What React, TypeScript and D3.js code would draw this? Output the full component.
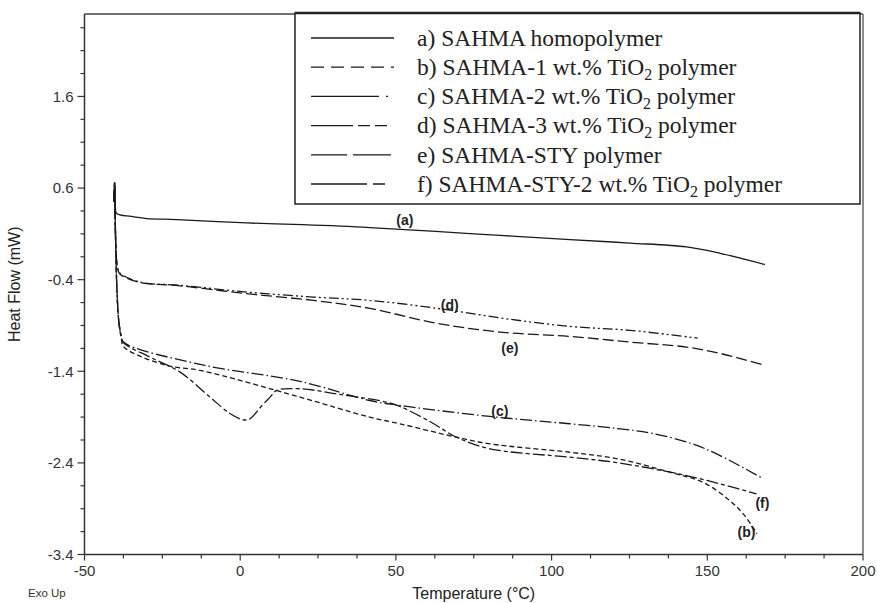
import React, { useRef, useEffect } from "react";
import * as d3 from "d3";

// DSC traces, [temperature (°C), heat flow (mW)]
const curveA: [number, number][] = [
  [-40.5, 0.45], [-40.35, 0.66], [-40.1, 0.4], [-39.66, 0.322], [-35, 0.29],
  [-30, 0.267], [-20.4, 0.256], [2.1, 0.219], [20, 0.2], [41.6, 0.169],
  [73.8, 0.103], [105.9, 0.038], [125.1, 0.0], [143.3, -0.043],
  [154.1, -0.112], [168.5, -0.235],
];
const curveB: [number, number][] = [
  [-40.5, 0.45], [-40.35, 0.66], [-40.05, 0.1], [-39.6, -0.5], [-39.0, -0.85],
  [-38.2, -1.04], [-37.3, -1.136], [-23.6, -1.336], [-12.9, -1.39],
  [19.2, -1.682], [41.6, -1.901], [51.3, -1.973], [69.5, -2.12],
  [80.2, -2.192], [105.9, -2.284], [121.9, -2.36], [138, -2.502],
  [148.6, -2.611], [157.2, -2.811], [162, -2.975], [165.9, -3.172],
];
const curveC: [number, number][] = [
  [-40.5, 0.45], [-40.35, 0.66], [-40.05, 0.1], [-39.6, -0.5], [-39.0, -0.85],
  [-38.3, -1.0], [-37.5, -1.081], [-12.9, -1.325], [19.2, -1.51],
  [41.6, -1.719], [51.3, -1.773], [80.2, -1.893], [105.9, -1.973],
  [121.9, -2.028], [132.5, -2.079], [145, -2.19], [154.1, -2.32],
  [167.4, -2.563],
];
const curveD: [number, number][] = [
  [-40.5, 0.45], [-40.35, 0.66], [-40.1, 0.2], [-39.8, -0.15], [-39.2, -0.29],
  [-38.6, -0.33], [-32.2, -0.426], [-19.3, -0.462], [2.1, -0.535],
  [23.5, -0.59], [41.6, -0.626], [63.2, -0.713], [84.4, -0.822],
  [105.9, -0.91], [125.1, -0.953], [146.9, -1.038],
];
const curveE: [number, number][] = [
  [-40.5, 0.45], [-40.35, 0.66], [-40.1, 0.2], [-39.8, -0.15], [-39.2, -0.3],
  [-38.6, -0.34], [-32.2, -0.43], [-19.3, -0.467], [2.1, -0.553],
  [23.5, -0.626], [41.6, -0.713], [63.2, -0.877], [84.4, -0.975],
  [105.9, -1.019], [125.1, -1.081], [143.3, -1.136], [154.1, -1.205],
  [167.4, -1.325],
];
const curveF: [number, number][] = [
  [-40.5, 0.45], [-40.35, 0.66], [-40.05, 0.1], [-39.6, -0.5], [-39.0, -0.85],
  [-38.3, -1.0], [-37.6, -1.085], [-29, -1.245], [-19.3, -1.409],
  [-9.7, -1.682], [-3.3, -1.861], [1.0, -1.93], [3.1, -1.919], [7.0, -1.773],
  [9.6, -1.682], [11.7, -1.609], [19.2, -1.591], [32, -1.653], [47, -1.737],
  [51.3, -1.784], [60.9, -1.948], [69.5, -2.12], [80.2, -2.246],
  [105.9, -2.338], [121.9, -2.402], [143.3, -2.538], [154.1, -2.629],
  [165.8, -2.738],
];

const seriesData = [curveA, curveB, curveC, curveD, curveE, curveF];
const seriesDash = ["none", "5,3", "12,3,1.5,3", "10,3,2,3,2,3", "11,4", "12,3,4,3"];
const legendDash = ["none", "13,7", "68,7,2,40", "42,5,12,5,12,40", "36,6,38,40", "56,6,12,40"];
const legendLabels = [
  "a) SAHMA homopolymer",
  "b) SAHMA-1 wt.% TiO2 polymer",
  "c) SAHMA-2 wt.% TiO2 polymer",
  "d) SAHMA-3 wt.% TiO2 polymer",
  "e) SAHMA-STY polymer",
  "f) SAHMA-STY-2 wt.% TiO2 polymer",
];

// curve tags placed in data space
const tagText = ["(a)", "(b)", "(c)", "(d)", "(e)", "(f)"];
const tagPos: [number, number][] = [
  [52.9, 0.25], [162.6, -3.16], [83.4, -1.83], [67.3, -0.68], [86.6, -1.15], [167.7, -2.84],
];

const xMajor = [-50, 0, 50, 100, 150, 200];
const yMajor = [-3.4, -2.4, -1.4, -0.4, 0.6, 1.6];

const W = 877;
const H = 603;

const App = () => {
  const ref = useRef<SVGSVGElement>(null);

  useEffect(() => {
    const svg = d3.select(ref.current);
    svg.selectAll("*").remove();

    const margin = { top: 14, right: 14, bottom: 48.5, left: 84.5 };
    const width = W - margin.left - margin.right;
    const height = H - margin.top - margin.bottom;
    const sans = "'Liberation Sans', Arial, sans-serif";
    const serif = "'Liberation Serif', 'Times New Roman', serif";
    const ink = "#1a1a1a";

    const x = d3.scaleLinear().domain([-50, 200]).range([0, width]);
    const y = d3.scaleLinear().domain([-3.4, 2.5]).range([height, 0]);

    svg.append("rect").attr("width", W).attr("height", H).attr("fill", "#fff");

    const g = svg
      .append("g")
      .attr("transform", `translate(${margin.left},${margin.top})`);

    // frame: top and right
    g.append("line")
      .attr("x1", 0).attr("x2", width).attr("y1", 0).attr("y2", 0)
      .attr("stroke", "#444").attr("stroke-width", 1.5);
    g.append("line")
      .attr("x1", width).attr("x2", width).attr("y1", 0).attr("y2", height)
      .attr("stroke", "#666").attr("stroke-width", 1.5);

    // axes
    const xMinor = d3.range(-50, 200.01, 12.5);
    const yMinor = d3.range(0, 24).map((k) => -3.4 + 0.25 * k);

    const xAxis = g.append("g").attr("transform", `translate(0,${height})`);
    xAxis.append("line")
      .attr("x1", 0).attr("x2", width)
      .attr("stroke", "#333").attr("stroke-width", 1.5);
    xAxis.selectAll(".xt")
      .data(xMinor)
      .enter()
      .append("line")
      .attr("x1", (d) => x(d)).attr("x2", (d) => x(d))
      .attr("y1", 0)
      .attr("y2", (d) => (xMajor.includes(d) ? 6 : 4))
      .attr("stroke", "#333").attr("stroke-width", 1.2);
    xAxis.selectAll(".xl")
      .data(xMajor)
      .enter()
      .append("text")
      .attr("x", (d) => x(d))
      .attr("y", 10.5)
      .attr("dy", "0.71em")
      .attr("text-anchor", "middle")
      .attr("font-family", sans)
      .attr("font-size", 15)
      .attr("fill", "#333")
      .text((d) => d);

    const yAxis = g.append("g");
    yAxis.append("line")
      .attr("y1", 0).attr("y2", height)
      .attr("stroke", "#333").attr("stroke-width", 1.5);
    yAxis.selectAll(".yt")
      .data(yMinor)
      .enter()
      .append("line")
      .attr("y1", (d) => y(d)).attr("y2", (d) => y(d))
      .attr("x1", 0)
      .attr("x2", (_, i) => (i % 4 === 0 ? -7 : -4))
      .attr("stroke", "#333").attr("stroke-width", 1.2);
    yAxis.selectAll(".yl")
      .data(yMajor)
      .enter()
      .append("text")
      .attr("x", -11)
      .attr("y", (d) => y(d))
      .attr("dy", "0.35em")
      .attr("text-anchor", "end")
      .attr("font-family", sans)
      .attr("font-size", 15)
      .attr("fill", "#333")
      .text((d) => d.toFixed(1));

    // titles
    g.append("text")
      .attr("x", width / 2)
      .attr("y", height + 44)
      .attr("text-anchor", "middle")
      .attr("font-family", sans)
      .attr("font-size", 16)
      .attr("fill", "#222")
      .text("Temperature (°C)");
    g.append("text")
      .attr("transform", "rotate(-90)")
      .attr("x", -height / 2)
      .attr("y", -65)
      .attr("text-anchor", "middle")
      .attr("font-family", sans)
      .attr("font-size", 16)
      .attr("fill", "#222")
      .text("Heat Flow (mW)");
    svg.append("text")
      .attr("x", 28)
      .attr("y", 597)
      .attr("font-family", sans)
      .attr("font-size", 11.5)
      .attr("fill", "#333")
      .text("Exo Up");

    // traces
    const line = d3
      .line<[number, number]>()
      .x((d) => x(d[0]))
      .y((d) => y(d[1]))
      .curve(d3.curveCatmullRom.alpha(0.5));

    g.selectAll(".trace")
      .data(seriesData)
      .enter()
      .append("path")
      .attr("fill", "none")
      .attr("stroke", ink)
      .attr("stroke-width", 1.3)
      .attr("stroke-dasharray", (_, i) => seriesDash[i])
      .attr("d", (d) => line(d));

    g.selectAll(".tag")
      .data(tagText)
      .enter()
      .append("text")
      .attr("x", (_, i) => x(tagPos[i][0]))
      .attr("y", (_, i) => y(tagPos[i][1]))
      .attr("dy", "0.35em")
      .attr("text-anchor", "middle")
      .attr("font-family", sans)
      .attr("font-weight", "bold")
      .attr("font-size", 14)
      .attr("fill", "#222")
      .text((d) => d);

    // legend box
    const lg = svg.append("g");
    lg.append("rect")
      .attr("x", 295).attr("y", 13)
      .attr("width", 565).attr("height", 191)
      .attr("fill", "#fff")
      .attr("stroke", "#222").attr("stroke-width", 1.5);
    lg.append("line")
      .attr("x1", 295).attr("x2", 860).attr("y1", 13).attr("y2", 13)
      .attr("stroke", "#222").attr("stroke-width", 2.5);

    const rowY = (i: number) => 38 + i * 29.2;
    lg.selectAll(".ls")
      .data(legendLabels)
      .enter()
      .append("line")
      .attr("x1", 311).attr("x2", 394)
      .attr("y1", (_, i) => rowY(i)).attr("y2", (_, i) => rowY(i))
      .attr("stroke", ink).attr("stroke-width", 1.3)
      .attr("stroke-dasharray", (_, i) => legendDash[i]);

    legendLabels.forEach((label, i) => {
      const t = lg.append("text")
        .attr("x", 417)
        .attr("y", rowY(i))
        .attr("dy", "0.33em")
        .attr("font-family", serif)
        .attr("font-size", 23.5)
        .attr("fill", "#222");
      const parts = label.split("TiO2");
      if (parts.length === 1) {
        t.text(label);
      } else {
        t.append("tspan").text(parts[0] + "TiO");
        t.append("tspan").attr("font-size", 16).attr("dy", 5).text("2");
        t.append("tspan").attr("dy", -5).text(parts[1]);
      }
    });

    return () => {
      svg.selectAll("*").remove();
    };
  }, []);

  return (
    <svg
      ref={ref}
      width={W}
      height={H}
      style={{ position: "absolute", left: 0, top: 0, display: "block" }}
    />
  );
};

export default App;
